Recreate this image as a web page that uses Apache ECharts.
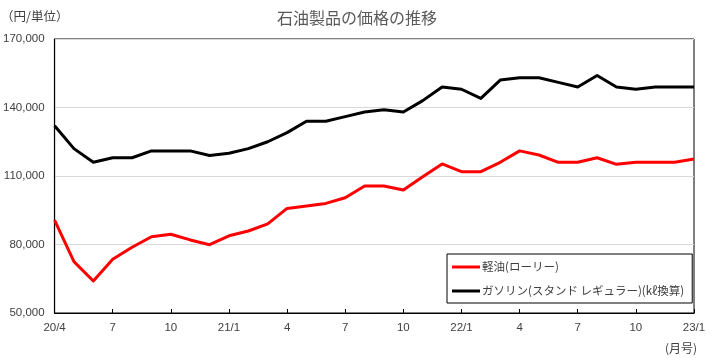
<!DOCTYPE html>
<html>
<head>
<meta charset="utf-8">
<script src="https://cdn.jsdelivr.net/npm/echarts@6/dist/echarts.min.js"></script>
<style>
html,body{margin:0;padding:0;background:#fff;}
#c{width:714px;height:358px;}
</style>
</head>
<body>
<div id="c"></div>
<script>
const titleText = '石油製品の価格の推移';
const unitText = '（円/単位）';
const monthText = '(月号)';
const categories = ['20/4','5','6','7','8','9','10','11','12',
  '21/1','2','3','4','5','6','7','8','9','10','11','12',
  '22/1','2','3','4','5','6','7','8','9','10','11','12',
  '23/1'];
const dieselName = '軽油(ローリー)';
const gasolineName = 'ガソリン(スタンド レギュラー)(kℓ換算)';
const diesel = [90700,72500,64000,73500,78800,83400,84500,82000,79900,83800,85900,89000,
  95800,96900,98000,100500,105600,105600,103900,109700,115300,111900,111900,116000,
  121000,119200,116000,116000,118000,115100,116000,116000,116000,117400];
const gasoline = [132000,122000,116000,118000,118000,121000,121000,121000,119000,120000,122000,125000,
  129000,134000,134000,136000,138000,139000,138000,143000,149000,148000,144000,152000,
  153000,153000,151000,149000,154000,149000,148000,149000,149000,149000];
const yMin = 50000, yMax = 170000, yInterval = 30000;

const chart = echarts.init(document.getElementById('c'));
const cjk = '"Noto Sans CJK JP", "Noto Sans", sans-serif';
const latin = '"Liberation Sans", Arial, sans-serif';
chart.setOption({
  animation: false,
  backgroundColor: '#fff',
  title: {
    text: titleText,
    left: 'center',
    top: 5,
    textStyle: { fontFamily: cjk, fontSize: 16, fontWeight: 'normal', color: '#595959' }
  },
  graphic: [
    { type: 'text', left: 1, top: 10, style: { text: unitText, font: '12.5px ' + cjk, fill: '#404040' } },
    { type: 'text', left: 665, top: 342, style: { text: monthText, font: '12px ' + cjk, fill: '#404040' } }
  ],
  legend: {
    orient: 'vertical',
    left: 447,
    top: 254,
    width: 239,
    padding: [6, 8, 5, 5],
    itemGap: 10,
    itemWidth: 28,
    itemHeight: 3,
    icon: 'rect',
    borderColor: '#000',
    borderWidth: 1,
    backgroundColor: '#fff',
    textStyle: { fontFamily: cjk, fontSize: 11.5, color: '#404040', lineHeight: 14, padding: [0,0,0,-3] },
    data: [dieselName, gasolineName]
  },
  grid: {
    left: 54, right: 20, top: 39, bottom: 45,
    show: true, borderColor: '#000', borderWidth: 1
  },
  xAxis: {
    type: 'category',
    data: categories,
    boundaryGap: false,
    axisLine: { lineStyle: { color: '#000', width: 1.2 } },
    axisTick: { show: true, inside: true, length: 4, interval: 2, lineStyle: { color: '#000' } },
    axisLabel: { interval: 2, margin: 9, fontFamily: latin, fontSize: 11.5, color: '#404040' },
    splitLine: { show: false }
  },
  yAxis: {
    type: 'value',
    min: yMin, max: yMax, interval: yInterval,
    axisLine: { show: true, lineStyle: { color: '#000', width: 1.2 } },
    axisTick: { show: false },
    axisLabel: {
      margin: 10, fontFamily: latin, fontSize: 11.5, color: '#404040',
      formatter: v => v.toLocaleString('en-US')
    },
    splitLine: { show: true, lineStyle: { color: '#d9d9d9', width: 1 } }
  },
  series: [
    {
      name: dieselName, type: 'line', data: diesel, symbol: 'none',
      lineStyle: { color: '#ff0000', width: 3, join: 'round' },
      itemStyle: { color: '#ff0000' }
    },
    {
      name: gasolineName, type: 'line', data: gasoline, symbol: 'none',
      lineStyle: { color: '#000000', width: 3, join: 'round' },
      itemStyle: { color: '#000000' }
    }
  ]
});
</script>
</body>
</html>
